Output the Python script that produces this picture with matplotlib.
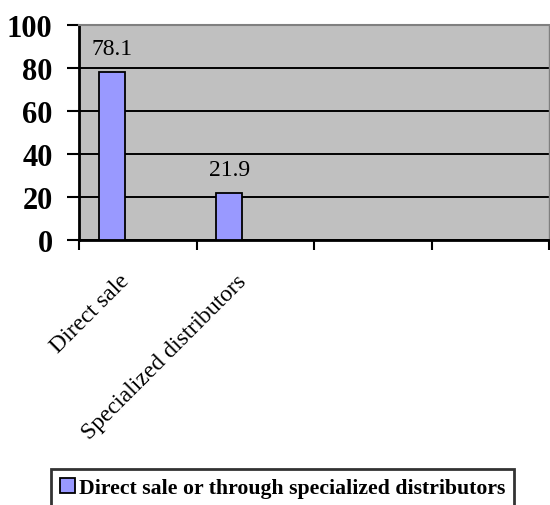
import matplotlib.pyplot as plt
import matplotlib.patches as mpatches

categories = ["Direct sale", "Specialized distributors", "", ""]
values = [78.1, 21.9]
series_name = "Direct sale or through specialized distributors"
y_ticks = [0, 20, 40, 60, 80, 100]

plt.rcParams['font.family'] = ['Liberation Serif', 'DejaVu Serif']

fig = plt.figure(figsize=(5.5, 5.06), dpi=100)
ax = fig.add_axes([79 / 550, 1 - 241 / 506, 470 / 550, 215 / 506])
ax.set_facecolor('#C0C0C0')

# bars sit left of the category centre, like the Excel original
xpos = [i + 0.28 for i in range(len(values))]
ax.bar(xpos, values, width=0.22, color='#9999FF', edgecolor='black', linewidth=1.3, zorder=3)
for x, v in zip(xpos, values):
    ax.text(x, v + 6, f"{v:.1f}", ha='center', va='bottom', fontsize=17, zorder=4)

ax.set_xlim(0, len(categories))
ax.set_ylim(0, 100)
ax.set_yticks(y_ticks)
ax.set_yticklabels([str(t) for t in y_ticks], fontsize=22, fontweight='bold')
ax.yaxis.grid(True, color='black', linewidth=1.4, zorder=1)
ax.set_axisbelow(True)

ax.set_xticks(range(len(categories) + 1))
ax.set_xticklabels([])
ax.set_xticks([i + 0.4 for i in range(len(categories))], minor=True)
ax.set_xticklabels(categories, minor=True, rotation=45, ha='right', va='center',
                   rotation_mode='anchor', fontsize=17)
ax.tick_params(axis='x', which='minor', length=0, pad=27)
ax.tick_params(axis='x', which='major', direction='out', length=7, width=1.5)
ax.tick_params(axis='y', direction='out', length=9, width=1.5, pad=10)

ax.spines['left'].set_linewidth(2)
ax.spines['bottom'].set_linewidth(2)
ax.spines['top'].set_color('#808080')
ax.spines['right'].set_color('#808080')
ax.spines['top'].set_linewidth(1.5)
ax.spines['right'].set_linewidth(1)

handle = mpatches.Patch(facecolor='#9999FF', edgecolor='black', linewidth=1.3)
leg = fig.legend([handle], [series_name], loc='upper left',
                 bbox_to_anchor=(51 / 550, 1 - 470 / 506),
                 prop={'size': 15.7, 'weight': 'bold'}, frameon=True, fancybox=False,
                 handlelength=0.7, handleheight=0.7, handletextpad=0.2,
                 borderpad=0.4, borderaxespad=0)
leg.get_frame().set_edgecolor('black')
leg.get_frame().set_linewidth(2)

plt.savefig('out.png', dpi=100)
